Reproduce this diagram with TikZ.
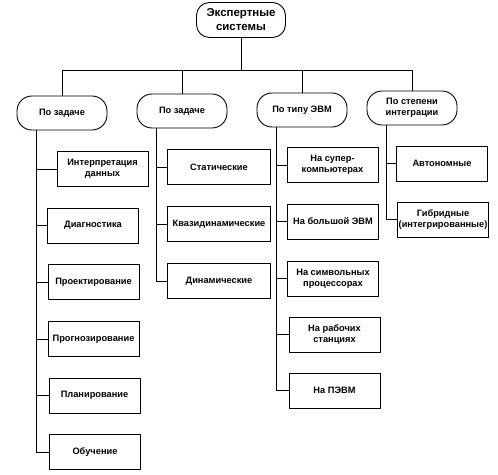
\documentclass[tikz,border=0pt]{standalone}
\usepackage{fontspec}
\newfontfamily\schemefont{Liberation Sans}
\tikzset{
  box/.style={draw, line width=0.9pt, align=center, inner sep=1pt,
    font=\schemefont\bfseries\fontsize{9.3}{11}\selectfont},
  topbox/.style={box, rounded corners=13bp, minimum width=89bp, minimum height=35bp,
    font=\schemefont\bfseries\fontsize{11.5}{14}\selectfont},
  grp/.style={box, rounded corners=15bp, minimum width=90bp, minimum height=34bp},
  leaf/.style={box, minimum width=91bp, minimum height=35bp},
  wideleaf/.style={leaf, minimum width=103bp},
  link/.style={line width=0.9pt}
}
\begin{document}
\begin{tikzpicture}[x=1bp,y=-1bp]
\useasboundingbox (0,0) rectangle (498,475);

% root
\node[topbox] (root) at (241,20) {Экспертные\\системы};
\coordinate (bus) at (0,70);

% classification groups
\node[grp] (g1) at (62,113) {По задаче};
\node[grp] (g2) at (182,111) {По задаче};
\node[grp] (g3) at (302,110) {По типу ЭВМ};
\node[grp] (g4) at (412,108) {По степени\\интеграции};

\draw[link] (root.south) -- (root.south |- bus);
\draw[link] (g1.north |- bus) -- (g4.north |- bus);
\foreach \g in {g1,g2,g3,g4}
  \draw[link] (\g.north |- bus) -- (\g.north);

% first column
\node[leaf] (c11) at (102.5,169) {Интерпретация\\данных};
\node[leaf] (c12) at (93,225.5) {Диагностика};
\node[leaf] (c13) at (93.5,282) {Проектирование};
\node[leaf] (c14) at (93.5,339) {Прогнозирование};
\node[leaf] (c15) at (94.5,395.5) {Планирование};
\node[leaf] (c16) at (95,452) {Обучение};

% second column
\node[wideleaf] (c21) at (219,167) {Статические};
\node[wideleaf] (c22) at (219,224) {Квазидинамические};
\node[wideleaf] (c23) at (219,281) {Динамические};

% third column
\node[leaf] (c31) at (332.5,165) {На супер-\\компьютерах};
\node[leaf] (c32) at (333,221.5) {На большой ЭВМ};
\node[leaf] (c33) at (333,278.5) {На символьных\\процессорах};
\node[leaf] (c34) at (334.5,334.5) {На рабочих\\станциях};
\node[leaf] (c35) at (334.5,390.5) {На ПЭВМ};

% fourth column
\node[leaf] (c41) at (442,163.5) {Автономные};
\node[leaf] (c42) at (443,219.5) {Гибридные\\(интегрированные)};

% spines
\foreach \c in {c11,c12,c13,c14,c15,c16}
  \draw[link] ([xshift=20bp]g1.south west) |- (\c.west);
\foreach \c in {c21,c22,c23}
  \draw[link] ([xshift=20bp]g2.south west) |- (\c.west);
\foreach \c in {c31,c32,c33,c34,c35}
  \draw[link] ([xshift=20bp]g3.south west) |- (\c.west);
\foreach \c in {c41,c42}
  \draw[link] ([xshift=20bp]g4.south west) |- (\c.west);
\end{tikzpicture}
\end{document}
